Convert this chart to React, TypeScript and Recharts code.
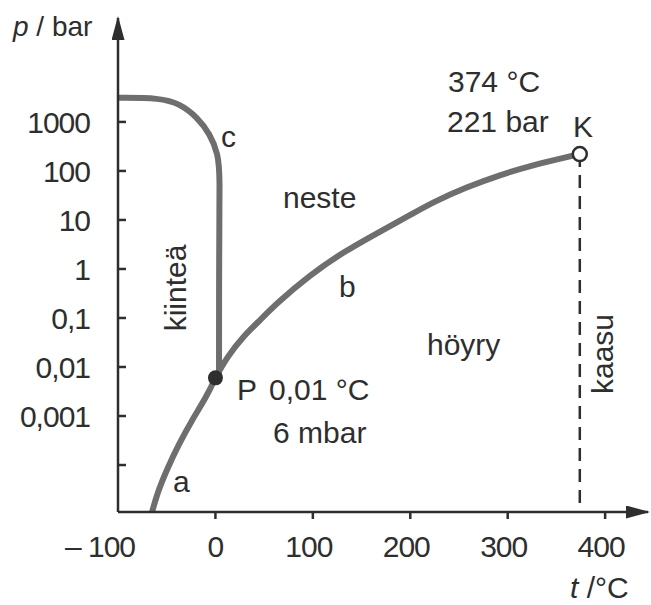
import {
  Line,
  LineChart,
  ReferenceDot,
  ReferenceLine,
  XAxis,
  YAxis,
} from "recharts";

const INK = "#2e2e2e";
const CURVE = "#6e6e6e";
const FONT = '"Liberation Sans", Arial, Helvetica, sans-serif';

// a: ice -> vapour (sublimation curve)
const sublimationT = [-65, -59.6, -50, -37, -24, -9, 0.01];
const sublimationP = [1.1e-5, 2.7e-5, 8e-5, 2.8e-4, 8.3e-4, 2.5e-3, 0.006];

// b: liquid -> vapour, ends at the critical point
const boilingT = [0.01, 12, 28, 46, 63, 97, 131, 166, 200, 223, 258, 292, 326, 361, 374];
const boilingP = [0.006, 0.016, 0.041, 0.091, 0.2, 0.75, 2.2, 5.4, 12.6, 23, 47, 83, 132, 193, 221];

// c: ice -> liquid
const meltingT = [-100, -57, -36, -19, -5.5, 2.7, 4.7, 3.7, 3.7];
const meltingP = [3100, 3100, 2330, 1265, 569, 222, 83, 2.4, 0.006];

const tripleT = 0.01;
const tripleP = 0.006;
const criticalT = 374;
const criticalP = 221;

const tTicks = [-100, 0, 100, 200, 300, 400];
const tTickLabels = ["– 100", "0", "100", "200", "300", "400"];
const pTicks = [0.0001, 0.001, 0.01, 0.1, 1, 10, 100, 1000];
const pTickLabels = ["", "0,001", "0,01", "0,1", "1", "10", "100", "1000"];

const P_MIN = 1.1e-5;
const P_MAX = 1.32e5;

const toPoints = (ts: number[], ps: number[]) =>
  ts.map((t, i) => ({ t, p: ps[i] }));

const sublimation = toPoints(sublimationT, sublimationP);
const boiling = toPoints(boilingT, boilingP);
const melting = toPoints(meltingT, meltingP);

const textStyle = { fontFamily: FONT, fontSize: 30, fill: INK };

function YTick({ x, y, payload }: any) {
  const i = pTicks.findIndex(
    (v) => Math.abs(Math.log10(v) - Math.log10(payload.value)) < 1e-6
  );
  return (
    <g>
      <line x1={x} x2={x + 8} y1={y} y2={y} stroke={INK} strokeWidth={2.5} />
      <text
        x={x - 28}
        y={y}
        dy="0.36em"
        textAnchor="end"
        letterSpacing={-1}
        style={textStyle}
      >
        {i >= 0 ? pTickLabels[i] : ""}
      </text>
    </g>
  );
}

function XTick({ x, y, payload }: any) {
  const i = tTicks.indexOf(payload.value);
  const first = payload.value === tTicks[0];
  return (
    <g>
      {!first && (
        <line x1={x} x2={x} y1={y} y2={y + 7} stroke={INK} strokeWidth={2.5} />
      )}
      <text
        x={first ? x + 17 : payload.value === 0 ? x : x - 4}
        y={y + 45}
        textAnchor={first ? "end" : "middle"}
        letterSpacing={-1}
        style={textStyle}
      >
        {tTickLabels[i]}
      </text>
    </g>
  );
}

export default function App() {
  return (
    <div
      style={{
        position: "absolute",
        left: 0,
        top: 0,
        width: 651,
        height: 605,
        background: "#fff",
      }}
    >
      <svg width={0} height={0} style={{ position: "absolute" }}>
        <defs>
          <marker
            id="axis-arrow"
            viewBox="0 0 24 13"
            markerUnits="userSpaceOnUse"
            markerWidth={24}
            markerHeight={13}
            refX={22}
            refY={6.5}
            orient="auto-start-reverse"
          >
            <path d="M0,0 L24,6.5 L0,13 Z" fill={INK} />
          </marker>
        </defs>
      </svg>

      <LineChart
        width={651}
        height={605}
        margin={{ top: 18, right: 3, bottom: 33, left: 58 }}
      >
        <XAxis
          type="number"
          dataKey="t"
          domain={[-100, 444]}
          ticks={tTicks}
          interval={0}
          allowDataOverflow
          height={60}
          tickSize={0}
          tickMargin={0}
          tickLine={false}
          tick={<XTick />}
          axisLine={{
            stroke: INK,
            strokeWidth: 2.5,
            markerEnd: "url(#axis-arrow)",
          }}
        />
        <YAxis
          type="number"
          scale="log"
          domain={[P_MIN, P_MAX]}
          ticks={pTicks}
          interval={0}
          allowDataOverflow
          width={60}
          tickSize={0}
          tickMargin={0}
          tickLine={false}
          tick={<YTick />}
          axisLine={{
            stroke: INK,
            strokeWidth: 2.5,
            markerStart: "url(#axis-arrow)",
          }}
        />
        <ReferenceLine
          segment={[
            { x: criticalT, y: criticalP },
            { x: criticalT, y: P_MIN },
          ]}
          stroke={INK}
          strokeWidth={2.5}
          strokeDasharray="13 8"
        />
        <Line
          data={melting}
          dataKey="p"
          type="basis"
          stroke={CURVE}
          strokeWidth={6}
          dot={false}
          isAnimationActive={false}
        />
        <Line
          data={sublimation}
          dataKey="p"
          type="basis"
          stroke={CURVE}
          strokeWidth={6}
          dot={false}
          isAnimationActive={false}
        />
        <Line
          data={boiling}
          dataKey="p"
          type="basis"
          stroke={CURVE}
          strokeWidth={6}
          dot={false}
          isAnimationActive={false}
        />
        <ReferenceDot
          x={tripleT}
          y={tripleP}
          r={7.5}
          fill={INK}
          stroke="none"
        />
        <ReferenceDot
          x={criticalT}
          y={criticalP}
          r={7}
          fill="#fff"
          stroke={INK}
          strokeWidth={2.5}
        />
      </LineChart>

      <svg
        width={651}
        height={605}
        style={{ position: "absolute", left: 0, top: 0, pointerEvents: "none" }}
      >
        <g style={{ ...textStyle }}>
          <text x={13} y={36} fontSize={28}>
            <tspan fontStyle="italic">p</tspan>
            <tspan> / bar</tspan>
          </text>
          <text x={448} y={92}>374 °C</text>
          <text x={447} y={132}>221 bar</text>
          <text x={573} y={137}>K</text>
          <text x={221} y={147}>c</text>
          <text x={283} y={208}>neste</text>
          <text
            x={186}
            y={288}
            textAnchor="middle"
            transform="rotate(-90 186 288)"
          >
            kiinteä
          </text>
          <text x={339} y={297}>b</text>
          <text x={427} y={355}>höyry</text>
          <text
            x={613}
            y={354}
            textAnchor="middle"
            transform="rotate(-90 613 354)"
          >
            kaasu
          </text>
          <text x={237} y={400}>P</text>
          <text x={269} y={400}>0,01 °C</text>
          <text x={273} y={443}>6 mbar</text>
          <text x={173} y={492}>a</text>
          <text x={570} y={598}>
            <tspan fontStyle="italic">t</tspan>
            <tspan> /°C</tspan>
          </text>
        </g>
      </svg>
    </div>
  );
}
